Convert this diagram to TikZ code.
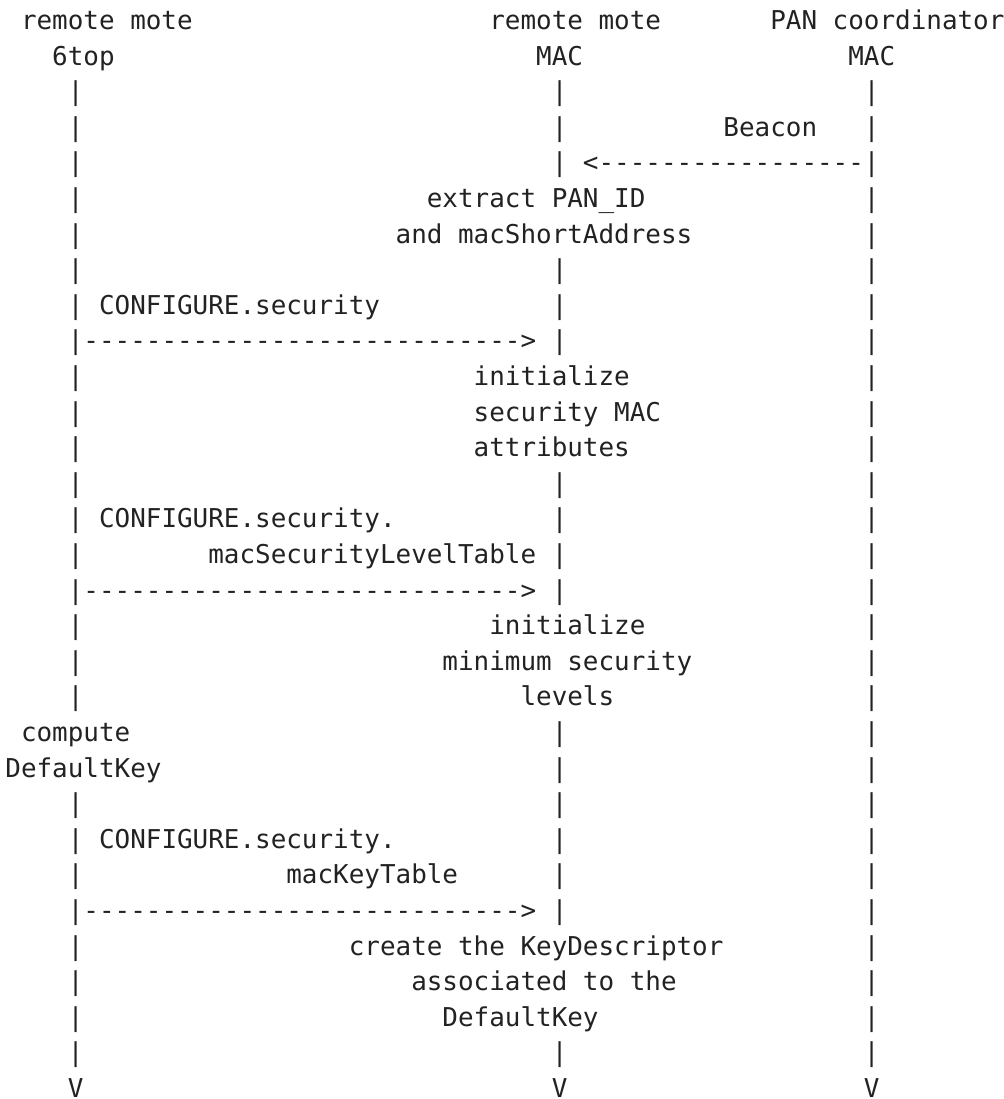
\documentclass[tikz,border=0pt]{standalone}
\usepackage{fontspec}
\setmonofont{DejaVu Sans Mono}
\definecolor{ink}{HTML}{222222}

\begin{document}
\begin{tikzpicture}[x=15.61pt,y=-35.6pt,
	cell/.style={anchor=base west,inner sep=0pt,outer sep=0pt,text=ink,
		font=\ttfamily\fontsize{25.93}{35.6}\selectfont}]
	\useasboundingbox (-0.346,0.174) rectangle (63.97,31.045);
	\node[cell] (sixtop) at (1,1) {remote mote};
	\node[cell] (mac) at (31,1) {remote mote};
	\node[cell] (pan) at (49,1) {PAN coordinator};
	\node[cell] (sixtoplbl) at (3,2) {6top};
	\node[cell] (maclbl) at (34,2) {MAC};
	\node[cell] (panlbl) at (54,2) {MAC};
	\foreach \r in {3,...,20} \node[cell] (a\r) at (4,\r) {|};
	\foreach \r in {23,...,30} \node[cell] (a\r) at (4,\r) {|};
	\foreach \r in {3,4,5,8,9,10,14,15,16,17,21,22,23,24,25,26,30} \node[cell] (b\r) at (35,\r) {|};
	\foreach \r in {3,...,30} \node[cell] (c\r) at (55,\r) {|};
	\foreach \c/\n in {4/a,35/b,55/c} \node[cell] (\n end) at (\c,31) {V};
	\node[cell] (beacon) at (46,4) {Beacon};
	\node[cell] (beaconmsg) at (37,5) {<-----------------};
	\node[cell] (extract) at (27,6) {extract PAN\_ID};
	\node[cell] (extract2) at (25,7) {and macShortAddress};
	\node[cell] (cfgsec) at (6,9) {CONFIGURE.security};
	\node[cell] (cfgsecmsg) at (5,10) {---------------------------->};
	\node[cell] (init) at (30,11) {initialize};
	\node[cell] (init2) at (30,12) {security MAC};
	\node[cell] (init3) at (30,13) {attributes};
	\node[cell] (cfglvl) at (6,15) {CONFIGURE.security.};
	\node[cell] (cfglvl2) at (13,16) {macSecurityLevelTable};
	\node[cell] (cfglvlmsg) at (5,17) {---------------------------->};
	\node[cell] (minlvl) at (31,18) {initialize};
	\node[cell] (minlvl2) at (28,19) {minimum security};
	\node[cell] (minlvl3) at (33,20) {levels};
	\node[cell] (compute) at (1,21) {compute};
	\node[cell] (compute2) at (0,22) {DefaultKey};
	\node[cell] (cfgkey) at (6,24) {CONFIGURE.security.};
	\node[cell] (cfgkey2) at (18,25) {macKeyTable};
	\node[cell] (cfgkeymsg) at (5,26) {---------------------------->};
	\node[cell] (create) at (22,27) {create the KeyDescriptor};
	\node[cell] (create2) at (26,28) {associated to the};
	\node[cell] (create3) at (28,29) {DefaultKey};
\end{tikzpicture}
\end{document}
